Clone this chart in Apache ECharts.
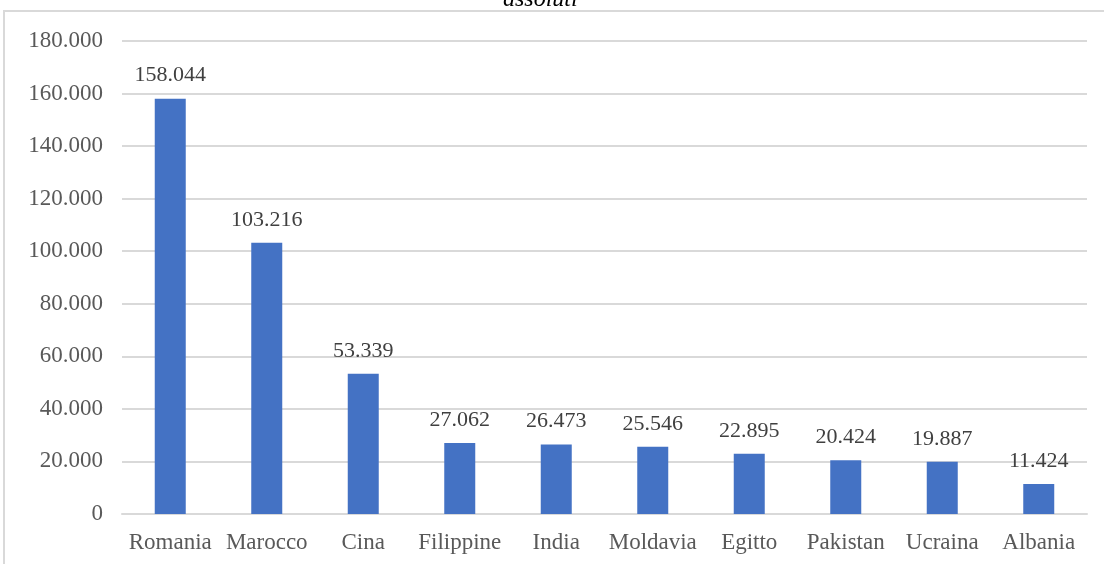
<!DOCTYPE html>
<html>
<head>
<meta charset="utf-8">
<script src="https://cdn.jsdelivr.net/npm/echarts@6/dist/echarts.min.js"></script>
<style>
  html, body { margin: 0; padding: 0; background: #fff; }
  #main { width: 1104px; height: 564px; }
</style>
</head>
<body>
<div id="main"></div>
<script>
var categories = ['Romania', 'Marocco', 'Cina', 'Filippine', 'India', 'Moldavia', 'Egitto', 'Pakistan', 'Ucraina', 'Albania'];
var values = [158044, 103216, 53339, 27062, 26473, 25546, 22895, 20424, 19887, 11424];

// separatore delle migliaia col punto
function fmt(v) {
  return String(v).replace(/\B(?=(\d{3})+(?!\d))/g, '.');
}

var chart = echarts.init(document.getElementById('main'));
var serif = '"Liberation Serif", "Times New Roman", serif';

var option = {
  animation: false,
  textStyle: { fontFamily: serif },
  title: {
    text: 'assoluti',
    left: 498,
    top: -17,
    textStyle: { fontFamily: serif, fontStyle: 'italic', fontWeight: 'normal', fontSize: 24, color: '#000' }
  },
  graphic: [{
    type: 'rect',
    shape: { x: 4, y: 11, width: 1200, height: 700 },
    style: { fill: 'none', stroke: '#d9d9d9', lineWidth: 2 },
    silent: true
  }],
  grid: { left: 122, right: 17, top: 41, bottom: 50 },
  xAxis: {
    type: 'category',
    data: categories,
    axisLine: { lineStyle: { color: '#d9d9d9', width: 2 } },
    axisTick: { show: false },
    axisLabel: { color: '#595959', fontSize: 23, margin: 17, fontFamily: serif, interval: 0 }
  },
  yAxis: {
    type: 'value',
    min: 0,
    max: 180000,
    interval: 20000,
    axisLine: { show: false },
    axisTick: { show: false },
    splitLine: { lineStyle: { color: '#d9d9d9', width: 2 } },
    axisLabel: { color: '#595959', fontSize: 23, margin: 19, fontFamily: serif, formatter: fmt }
  },
  series: [{
    type: 'bar',
    data: values,
    barWidth: 31,
    itemStyle: { color: '#4472c4' },
    label: {
      show: true,
      position: 'top',
      distance: 12,
      color: '#404040',
      fontSize: 22,
      fontFamily: serif,
      formatter: function (p) { return fmt(p.value); }
    }
  }]
};

chart.setOption(option);
</script>
</body>
</html>
